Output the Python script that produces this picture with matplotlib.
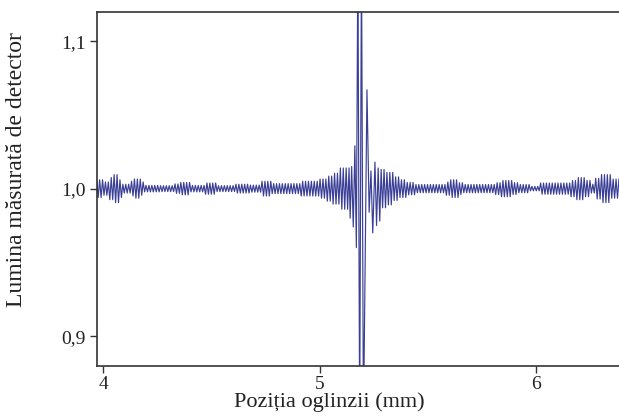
import numpy as np
import matplotlib
matplotlib.use("Agg")
import matplotlib.pyplot as plt

plt.rcParams["font.family"] = ["Liberation Serif", "DejaVu Serif"]

LINE_COLOR = "#3a3f95"

# fringe spacing (mm between successive maxima and minima)
HALF_FRINGE = 0.0067

# envelope of the fringes away from the centre: segment edges (mm) and amplitude
ENV_EDGES = [3.970, 4.000, 4.030, 4.045, 4.075, 4.090, 4.125, 4.140, 4.175, 4.190,
             4.260, 4.330, 4.355, 4.400, 4.470, 4.520, 4.610, 4.680, 4.730, 4.780,
             4.910, 4.960, 5.000, 5.030, 5.060, 5.095, 5.141]
ENV_AMP = [0.0060, 0.0045, 0.0075, 0.0095, 0.0060, 0.0030, 0.0050, 0.0065, 0.0045,
           0.0022, 0.0020, 0.0032, 0.0042, 0.0022, 0.0038, 0.0020, 0.0030, 0.0024,
           0.0050, 0.0034, 0.0050, 0.0050, 0.0065, 0.0085, 0.0105, 0.0140]

ENV_EDGES_R = [5.284, 5.310, 5.340, 5.370, 5.400, 5.440, 5.580, 5.600, 5.640, 5.660,
               5.810, 5.840, 5.890, 5.920, 5.970, 6.020, 6.160, 6.185, 6.225, 6.250,
               6.275, 6.300, 6.345, 6.384]
ENV_AMP_R = [0.0130, 0.0110, 0.0080, 0.0060, 0.0042, 0.0028, 0.0045, 0.0060, 0.0040,
             0.0028, 0.0040, 0.0055, 0.0040, 0.0028, 0.0015, 0.0038, 0.0055, 0.0075,
             0.0055, 0.0030, 0.0070, 0.0095, 0.0065]

# extremes of the central burst (mm, signal)
CENTER_X = [5.1409, 5.1478, 5.1552, 5.1626, 5.1695, 5.1764, 5.1848, 5.1931, 5.2023,
            5.2185, 5.2286, 5.2370, 5.2453, 5.2554, 5.2628, 5.2702, 5.2776]
CENTER_Y = [0.980, 1.015, 0.974, 1.029, 0.960, 1.160, 0.840, 1.160, 0.840,
            1.067, 0.984, 1.012, 0.970, 1.018, 0.975, 1.014, 0.978]

Y_TICKS = [0.9, 1.0, 1.1]
Y_TICK_LABELS = ["0,9", "1,0", "1,1"]
X_TICKS = [4, 5, 6]
X_TICK_LABELS = ["4", "5", "6"]


def fringe_extremes(edges, amps, start_sign):
    xs = np.arange(edges[0], edges[-1], HALF_FRINGE)
    idx = np.clip(np.searchsorted(edges, xs, side="right") - 1, 0, len(amps) - 1)
    amp = np.array(amps)[idx]
    sign = np.where(np.arange(len(xs)) % 2 == 0, start_sign, -start_sign)
    return xs, 1.0 + sign * amp


xl, yl = fringe_extremes(ENV_EDGES, ENV_AMP, 1)
xr, yr = fringe_extremes(ENV_EDGES_R, ENV_AMP_R, 1)
x = np.concatenate([xl, CENTER_X, xr])
y = np.concatenate([yl, CENTER_Y, yr])

fig = plt.figure(figsize=(6.19, 4.16), dpi=100)
ax = fig.add_axes([0.157, 0.120, 0.843, 0.851])
ax.plot(x, y, color=LINE_COLOR, linewidth=0.85)

ax.set_xlim(3.972, 6.383)
ax.set_ylim(0.8797, 1.1197)
ax.set_xticks(X_TICKS)
ax.set_xticklabels(X_TICK_LABELS)
ax.set_yticks(Y_TICKS)
ax.set_yticklabels(Y_TICK_LABELS)
ax.tick_params(direction="out", length=5, width=1.0, color="#333333",
               labelsize=14, labelcolor="#222222")
ax.tick_params(axis="x", pad=2)

for side in ["left", "top", "bottom"]:
    ax.spines[side].set_color("#333333")
    ax.spines[side].set_linewidth(1.2)
ax.spines["right"].set_visible(False)

ax.set_xlabel("Poziția oglinzii (mm)", fontsize=16, color="#222222")
ax.set_ylabel("Lumina măsurată de detector", fontsize=17, color="#222222")
ax.xaxis.set_label_coords(0.444, -0.075)
ax.yaxis.set_label_coords(-0.135, 0.554)

fig.savefig("out.png", dpi=100)
